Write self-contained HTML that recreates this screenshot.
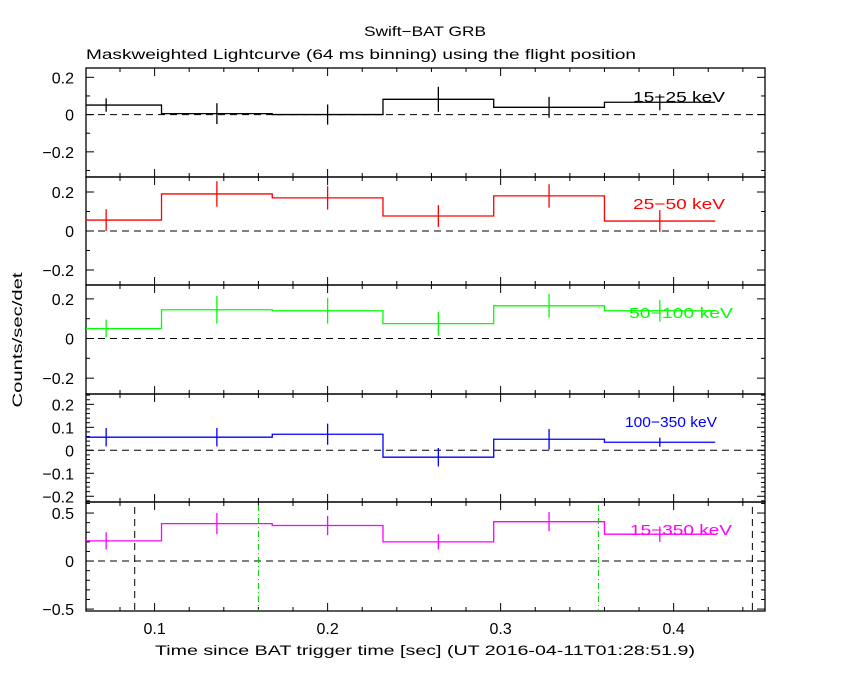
<!DOCTYPE html>
<html><head><meta charset="utf-8"><style>
body{margin:0;background:#fff}
svg{display:block;font-family:"Liberation Sans","DejaVu Sans",sans-serif}
</style></head><body>
<svg id="c" width="850" height="680" viewBox="0 0 850 680">
<text x="364" y="36" font-size="14" textLength="122" lengthAdjust="spacingAndGlyphs">Swift−BAT GRB</text>
<text x="86" y="59" font-size="14" textLength="550" lengthAdjust="spacingAndGlyphs">Maskweighted Lightcurve (64 ms binning) using the flight position</text>
<text transform="translate(22,340) rotate(-90)" text-anchor="middle" font-size="14" textLength="135" lengthAdjust="spacingAndGlyphs">Counts/sec/det</text>
<text x="155" y="655" font-size="14" textLength="540" lengthAdjust="spacingAndGlyphs">Time since BAT trigger time [sec] (UT 2016-04-11T01:28:51.9)</text>
</svg>
<script>
const binCenters=[0.072,0.136,0.200,0.264,0.328,0.392];
const binWidth=0.064;
const rate1=[0.051,0.005,0.0,0.082,0.039,0.066];
const err1=[0.036,0.056,0.054,0.067,0.056,0.043];
const rate2=[0.056,0.19,0.17,0.077,0.18,0.051];
const err2=[0.056,0.065,0.06,0.056,0.06,0.056];
const rate3=[0.05,0.145,0.14,0.075,0.165,0.14];
const err3=[0.045,0.07,0.065,0.06,0.06,0.055];
const rate4=[0.057,0.057,0.07,-0.03,0.048,0.035];
const err4=[0.04,0.04,0.046,0.04,0.045,0.02];
const rate5=[0.21,0.39,0.37,0.2,0.41,0.28];
const err5=[0.09,0.11,0.1,0.08,0.1,0.08];
const xTicks=[0.1,0.2,0.3,0.4];
const labels=["15−25 keV","25−50 keV","50−100 keV","100−350 keV","15−350 keV"];
const blackLines=[0.0885,0.4455];
const greenLines=[0.160,0.3565];

const NS="http://www.w3.org/2000/svg";
const svg=document.getElementById('c');
const L=86,R=765;
const X0=0.06035,X1=0.4528;
const xs=t=>L+(t-X0)/(X1-X0)*(R-L);
function el(tag,a,parent){const e=document.createElementNS(NS,tag);for(const k in a)e.setAttribute(k,a[k]);(parent||svg).appendChild(e);return e;}
const panels=[
 {top:68,bot:177,ymin:-0.335,ymax:0.25,maj:[-0.2,0,0.2],minStep:0.1,color:"#000",rate:rate1,err:err1,lx:633,lw:92,ly:102},
 {top:177,bot:285,ymin:-0.277,ymax:0.277,maj:[-0.2,0,0.2],minStep:0.1,color:"#f00",rate:rate2,err:err2,lx:633,lw:92,ly:209},
 {top:285,bot:394,ymin:-0.28,ymax:0.27,maj:[-0.2,0,0.2],minStep:0.1,color:"#0f0",rate:rate3,err:err3,lx:629,lw:104,ly:318},
 {top:394,bot:502,ymin:-0.225,ymax:0.245,maj:[-0.2,-0.1,0,0.1,0.2],minStep:0.02,color:"#00f",rate:rate4,err:err4,lx:625,lw:92,ly:427},
 {top:502,bot:611,ymin:-0.52,ymax:0.615,maj:[-0.5,0,0.5],minStep:0.1,color:"#f0f",rate:rate5,err:err5,lx:630,lw:102,ly:535}
];
panels.forEach((p,i)=>{
 const g=el('g',{});
 
 
 const ys=v=>p.bot-(v-p.ymin)/(p.ymax-p.ymin)*(p.bot-p.top);
 const fr=el('rect',{x:L,y:p.top,width:R-L,height:p.bot-p.top,fill:'none',stroke:'#000','stroke-width':1.3},g);
 
 
 for(let k=0;k<=22;k++){const t=0.02*k+0.06;if(t<X0-1e-9||t>X1)continue;
  const x=xs(t);const major=Math.abs(t*10-Math.round(t*10))<1e-6;const len=major?8:4;
  el('line',{x1:x,x2:x,y1:p.top,y2:p.top+len,stroke:'#000'},g);
  el('line',{x1:x,x2:x,y1:p.bot,y2:p.bot-len,stroke:'#000'},g);}
 const n0=Math.ceil(p.ymin/p.minStep-1e-6),n1=Math.floor(p.ymax/p.minStep+1e-6);
 for(let n=n0;n<=n1;n++){const v=n*p.minStep;const y=ys(v);
  const major=p.maj.some(m=>Math.abs(m-v)<1e-6);const len=major?8:4;
  el('line',{x1:L,x2:L+len,y1:y,y2:y,stroke:'#000'},g);
  el('line',{x1:R,x2:R-len,y1:y,y2:y,stroke:'#000'},g);}
 p.maj.forEach(v=>{const t=el('text',{x:L-12,y:ys(v)+6,'text-anchor':'end','font-size':16},g);
  t.textContent=(v<0?'−':'')+String(Math.abs(v));
  
  });
 const z=el('line',{x1:L,x2:R,y1:ys(0),y2:ys(0),stroke:'#000','stroke-dasharray':'7,5'},g);
 
 
 let d='';
 binCenters.forEach((c,j)=>{const x1=xs(Math.max(c-binWidth/2,X0)),x2=xs(c+binWidth/2),y=ys(p.rate[j]);
  d+=(j===0?'M':'L')+x1+','+y+'L'+x2+','+y;});
 const path=el('path',{d:d,fill:'none',stroke:p.color,'stroke-width':1.3},g);
 
 
 binCenters.forEach((c,j)=>{const x=xs(c);
  const e=el('line',{x1:x,x2:x,y1:ys(p.rate[j]-p.err[j]),y2:ys(p.rate[j]+p.err[j]),stroke:p.color,'stroke-width':1.3},g);
  
  });
 if(i===4){
  blackLines.forEach(t=>{const l=el('line',{x1:xs(t),x2:xs(t),y1:p.top+5,y2:p.bot,stroke:'#000','stroke-dasharray':'7,5'},g);
   
   });
  greenLines.forEach(t=>{const l=el('line',{x1:xs(t),x2:xs(t),y1:p.top+3,y2:p.bot,stroke:'#0c0','stroke-dasharray':'6,3,1,3'},g);
   
   });
 }
 const lt=el('text',{x:p.lx,y:p.ly,'font-size':15,fill:p.color,textLength:p.lw,lengthAdjust:'spacingAndGlyphs'},g);
 lt.textContent=labels[i];
 
 
});
xTicks.forEach(t=>{const tx=el('text',{x:xs(t),y:634,'text-anchor':'middle','font-size':16});
 tx.textContent=String(t);
 
 });
</script>
</body></html>
